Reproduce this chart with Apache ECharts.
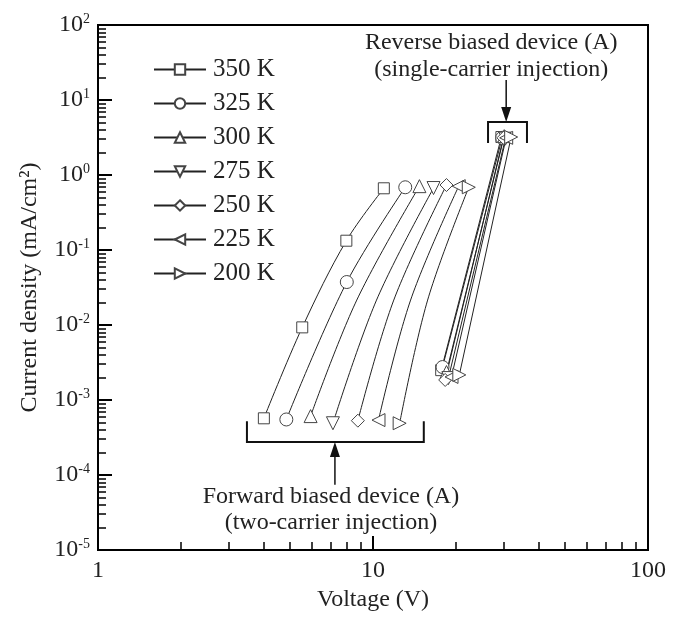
<!DOCTYPE html>
<html>
<head>
<meta charset="utf-8">
<script src="https://cdn.jsdelivr.net/npm/echarts@6/dist/echarts.min.js"></script>
<style>
  html, body { margin: 0; padding: 0; background: #fff; }
  #chart { width: 674px; height: 628px; }
</style>
</head>
<body>
<div id="chart"></div>
<script>
// temperatures (legend)
const temps = ['350 K', '325 K', '300 K', '275 K', '250 K', '225 K', '200 K'];
const symbols = ['rect', 'circle', 'triangle', 'triangle', 'diamond', 'triangle', 'triangle'];
const rotations = [0, 0, 0, 180, 0, 90, -90];

// forward bias: measured points (markers), voltage (V) and current density (mA/cm2)
const fwdV350 = [4.01, 5.53, 8.0, 10.95];
const fwdJ350 = [5.7e-4, 9.3e-3, 0.133, 0.665];
const fwdV325 = [4.84, 8.03, 13.1];
const fwdJ325 = [5.5e-4, 0.0374, 0.686];
const fwdV300 = [5.93, 14.75];
const fwdJ300 = [6.1e-4, 0.71];
const fwdV275 = [7.15, 16.6];
const fwdJ275 = [4.9e-4, 0.67];
const fwdV250 = [8.81, 18.5];
const fwdJ250 = [5.3e-4, 0.735];
const fwdV225 = [10.47, 20.5];
const fwdJ225 = [5.4e-4, 0.71];
const fwdV200 = [12.5, 22.3];
const fwdJ200 = [4.9e-4, 0.686];

// points read off the drawn curves between markers (no marker)
const traceV = [[], [], [8.73], [10.3], [11.9], [13.7], [15.8]];
const traceJ = [[], [], [0.0215], [0.0215], [0.0215], [0.0215], [0.0215]];

// reverse bias: low / high end of each line
const revV350 = [17.7, 29.3];
const revJ350 = [2.5e-3, 3.21];
const revV325 = [17.9, 29.5];
const revJ325 = [2.75e-3, 3.13];
const revV300 = [18.5, 30.0];
const revJ300 = [2.36e-3, 3.3];
const revV275 = [18.8, 30.3];
const revJ275 = [1.96e-3, 3.05];
const revV250 = [18.3, 29.8];
const revJ250 = [1.85e-3, 3.13];
const revV225 = [19.3, 30.5];
const revJ225 = [2.03e-3, 3.13];
const revV200 = [20.6, 31.8];
const revJ200 = [2.16e-3, 3.21];

const fwdV = [fwdV350, fwdV325, fwdV300, fwdV275, fwdV250, fwdV225, fwdV200];
const fwdJ = [fwdJ350, fwdJ325, fwdJ300, fwdJ275, fwdJ250, fwdJ225, fwdJ200];
const revV = [revV350, revV325, revV300, revV275, revV250, revV225, revV200];
const revJ = [revJ350, revJ325, revJ300, revJ275, revJ250, revJ225, revJ200];

// axis ticks
const xMajor = [1, 10, 100];
const yMajor = [1e-5, 1e-4, 1e-3, 1e-2, 1e-1, 1, 10, 100];

const FONT = '"Liberation Serif", "Times New Roman", serif';

const minorTicks = (majors) => {
  const out = [];
  for (let i = 0; i < majors.length - 1; i++) {
    for (let m = 2; m <= 9; m++) out.push(majors[i] * m);
  }
  return out;
};

const chart = echarts.init(document.getElementById('chart'));

const series = [];
temps.forEach((t, i) => {
  const pts = fwdV[i].map((v, k) => ({ value: [v, fwdJ[i][k]] }));
  traceV[i].forEach((v, k) => pts.push({ value: [v, traceJ[i][k]], symbol: 'none' }));
  pts.sort((a, b) => a.value[0] - b.value[0]);
  const common = {
    name: t,
    type: 'line',
    xAxisIndex: 0,
    yAxisIndex: 0,
    symbol: symbols[i],
    symbolRotate: rotations[i],
    symbolSize: symbols[i] === 'rect' ? 11 : 13,
    showAllSymbol: true,
    lineStyle: { color: '#222', width: 1 },
    itemStyle: { color: '#fff', borderColor: '#444', borderWidth: 1 },
    emphasis: { disabled: true },
    animation: false,
    z: 3
  };
  series.push(Object.assign({}, common, { smooth: 0.35, data: pts }));
  series.push(Object.assign({}, common, {
    data: revV[i].map((v, k) => [v, revJ[i][k]])
  }));
});

const option = {
  animation: false,
  grid: {
    left: 98, top: 25, right: 26, bottom: 78,
    show: true, borderColor: '#000', borderWidth: 2
  },
  legend: {
    data: temps,
    orient: 'vertical',
    left: 148,
    top: 52,
    itemWidth: 52,
    itemHeight: 13,
    itemGap: 9,
    selectedMode: false,
    textStyle: { fontFamily: FONT, fontSize: 25, color: '#222', padding: [0, 0, 0, 2] }
  },
  xAxis: [
    {
      type: 'log', logBase: 10, min: 1, max: 100, interval: 1,
      name: 'Voltage (V)', nameLocation: 'middle', nameGap: 36,
      nameTextStyle: { fontFamily: FONT, fontSize: 24, color: '#222' },
      axisLine: { lineStyle: { color: '#000', width: 2 } },
      axisTick: { inside: true, length: 14, lineStyle: { color: '#000', width: 2 } },
      axisLabel: { fontFamily: FONT, fontSize: 24, color: '#222', margin: 9 },
      splitLine: { show: false }
    },
    {
      type: 'log', logBase: 10, min: 1, max: 100, position: 'bottom',
      axisLine: { show: false },
      axisTick: { inside: true, length: 8, customValues: minorTicks(xMajor),
        lineStyle: { color: '#000', width: 1.5 } },
      axisLabel: { show: false },
      splitLine: { show: false }
    }
  ],
  yAxis: [
    {
      type: 'log', logBase: 10, min: 1e-5, max: 100, interval: 1,
      name: 'Current density (mA/cm²)', nameLocation: 'middle', nameGap: 56,
      nameTextStyle: { fontFamily: FONT, fontSize: 24, color: '#222' },
      axisLine: { lineStyle: { color: '#000', width: 2 } },
      axisTick: { inside: true, length: 14, lineStyle: { color: '#000', width: 2 } },
      axisLabel: {
        margin: 8,
        formatter: (v) => '{b|10}{s|' + Math.round(Math.log10(v)) + '}',
        rich: {
          b: { fontFamily: FONT, fontSize: 24, color: '#222' },
          s: { fontFamily: FONT, fontSize: 14, color: '#222', padding: [0, 0, 12, 0] }
        }
      },
      splitLine: { show: false }
    },
    {
      type: 'log', logBase: 10, min: 1e-5, max: 100, position: 'left',
      axisLine: { show: false },
      axisTick: { inside: true, length: 8, customValues: minorTicks(yMajor),
        lineStyle: { color: '#000', width: 1.5 } },
      axisLabel: { show: false },
      splitLine: { show: false }
    }
  ],
  series: series
};

chart.setOption(option);

// annotations placed in data coordinates
const px = (v, j) => chart.convertToPixel({ xAxisIndex: 0, yAxisIndex: 0 }, [v, j]);
const stroke = { stroke: '#111', lineWidth: 2, fill: null };
const textStyle = (p, s) => ({
  type: 'text',
  style: { text: s, x: p[0], y: p[1], fill: '#222', font: '24px ' + FONT,
    align: 'center', verticalAlign: 'middle' },
  z: 10
});
const arrowHead = (tip, dir) => ({
  type: 'polygon',
  shape: { points: [[tip[0], tip[1]], [tip[0] - 5, tip[1] + dir * 15], [tip[0] + 5, tip[1] + dir * 15]] },
  style: { fill: '#111' },
  z: 10
});

// forward bracket
const fL = px(3.48, 5.2e-4), fR = px(15.3, 5.2e-4);
const fBot = px(3.48, 2.75e-4)[1];
const fArrowTop = px(7.27, 2.75e-4), fArrowBot = px(7.27, 7.4e-5);
// reverse bracket
const rL = px(26.2, 2.67), rR = px(36.3, 2.67);
const rTop = px(26.2, 5.09)[1];
const rArrowBot = px(30.5, 5.09), rArrowTop = px(30.5, 18.5);

chart.setOption({
  graphic: [
    { type: 'polyline', shape: { points: [[fL[0], fL[1]], [fL[0], fBot], [fR[0], fBot], [fR[0], fR[1]]] }, style: stroke, z: 10 },
    { type: 'line', shape: { x1: fArrowBot[0], y1: fArrowBot[1], x2: fArrowTop[0], y2: fArrowTop[1] + 10 }, style: { stroke: '#111', lineWidth: 1.5 }, z: 10 },
    arrowHead(fArrowTop, 1),
    textStyle(px(7.03, 5.1e-5), 'Forward biased device (A)'),
    textStyle(px(7.03, 2.3e-5), '(two-carrier injection)'),
    { type: 'polyline', shape: { points: [[rL[0], rL[1]], [rL[0], rTop], [rR[0], rTop], [rR[0], rR[1]]] }, style: stroke, z: 10 },
    { type: 'line', shape: { x1: rArrowTop[0], y1: rArrowTop[1], x2: rArrowBot[0], y2: rArrowBot[1] - 10 }, style: { stroke: '#111', lineWidth: 1.5 }, z: 10 },
    arrowHead(rArrowBot, -1),
    textStyle(px(26.9, 57.5), 'Reverse biased device (A)'),
    textStyle(px(26.9, 25.1), '(single-carrier injection)')
  ]
});
</script>
</body>
</html>
